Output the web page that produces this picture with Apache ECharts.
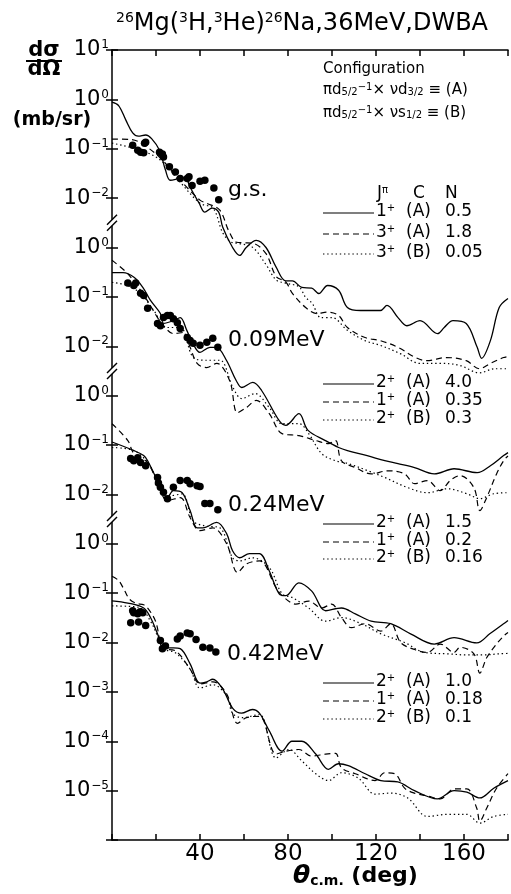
<!DOCTYPE html>
<html><head><meta charset="utf-8">
<script src="https://cdn.jsdelivr.net/npm/echarts@6/dist/echarts.min.js"></script>
<style>html,body{margin:0;padding:0;background:#fff}#c{width:511px;height:894px}</style>
</head><body><div id="c"></div>
<script>
// ---------------- DATA ----------------
const panelNames = ['g.s.', '0.09MeV', '0.24MeV', '0.42MeV'];
const xTickLabels = [40, 80, 120, 160];
// label exponent for each decade of the stacked axis (top 10^1 down to bottom)
const yTickExponents = [1, 0, -1, -2, 0, -1, -2, 0, -1, -2, 0, -1, -2, -3, -4, -5];

// legend entries: J^pi, configuration, normalisation N
const legendJ = [['1', '3', '3'], ['2', '1', '2'], ['2', '1', '2'], ['2', '1', '2']];
const legendC = [['(A)', '(A)', '(B)'], ['(A)', '(A)', '(B)'], ['(A)', '(A)', '(B)'], ['(A)', '(A)', '(B)']];
const legendN = [['0.5', '1.8', '0.05'], ['4.0', '0.35', '0.3'], ['1.5', '0.2', '0.16'], ['1.0', '0.18', '0.1']];

// g.s.
const gsSolid = [[0,0.88],[3,0.75],[6.3,0.38],[9.4,0.21],[12,0.18],[15.3,0.19],[18,0.16],[21.6,0.093],[24.3,0.037],[26.5,0.023],[30.6,0.025],[33.3,0.026],[35.5,0.0166],[39.6,0.0079],[42.2,0.0052],[45.5,0.0063],[48.5,0.0052],[50.3,0.0026],[54.8,1.0e-3],[58,6.9e-4],[61,1.0e-3],[65.6,1.4e-3],[70,1.0e-3],[74.6,4.0e-4],[79,2.1e-4],[82,2.1e-4],[86.3,1.55e-4],[90.8,1.5e-4],[94,1.17e-4],[98,1.7e-4],[103,1.36e-4],[107,6.1e-5],[113,5.3e-5],[122,5.3e-5],[125,6.7e-5],[130,3.8e-5],[134,2.6e-5],[140,3.3e-5],[148,1.8e-5],[151,2.4e-5],[155,3.3e-5],[161,2.9e-5],[166,9.5e-6],[168,5.7e-6],[172,1.3e-5],[176,6.1e-5],[180,9.3e-5]];
const gsDashed = [[0,0.157],[8,0.155],[12,0.14],[16,0.108],[22,0.065],[31,0.023],[40,0.0091],[43,0.0079],[49,0.0057],[53,2.2e-3],[56.6,1.28e-3],[60,1.25e-3],[64,1.22e-3],[70,7.5e-4],[74.6,2.6e-4],[79,2.0e-4],[82,1.18e-4],[88,6.1e-5],[93,4.6e-5],[98,4.9e-5],[103,4.2e-5],[107,2.4e-5],[115,1.5e-5],[122,1.3e-5],[130,9.5e-6],[138,5.9e-6],[143,5.1e-6],[152,5.9e-6],[161,5.1e-6],[167,3.5e-6],[172,4.5e-6],[178,5.9e-6],[180,6.2e-6]];
const gsDotted = [[0,0.13],[13,0.093],[22,0.059],[31,0.021],[40,0.0079],[46,0.0062],[50.3,0.002],[54,1.3e-3],[58,1.2e-3],[64,1.0e-3],[70,4.5e-4],[74.6,2.2e-4],[79,1.9e-4],[85,1.6e-4],[88,9.8e-5],[91,7.4e-5],[95,3.8e-5],[100,3.8e-5],[107,2.1e-5],[115,1.3e-5],[122,1.04e-5],[131,7.1e-6],[140,4.5e-6],[149,4.5e-6],[158,4.1e-6],[167,2.9e-6],[174,3.5e-6],[180,3.5e-6]];
const gsExp = [[9.4,0.118],[11.7,0.093],[13,0.085],[14.8,0.129],[15.3,0.135],[14.4,0.083],[21.6,0.085],[22.9,0.078],[23.4,0.068],[26.1,0.043],[28.8,0.034],[31,0.025],[34.2,0.025],[35,0.027],[36.4,0.018],[40,0.022],[42.2,0.023],[46.3,0.016],[48.5,0.0093]];

// 0.09 MeV
const e009Solid = [[0,0.31],[5,0.31],[10,0.25],[14,0.156],[17.5,0.085],[22,0.046],[23.5,0.029],[28,0.033],[31,0.038],[34,0.021],[36.5,0.012],[40,0.0075],[44.5,0.0095],[47.5,0.0095],[52,0.0052],[56.5,2.0e-3],[59,1.46e-3],[64,1.85e-3],[68,1.27e-3],[76,3.1e-4],[79,2.5e-4],[85,4.3e-4],[89,2.0e-4],[97,1.23e-4],[103,8.9e-5],[107,7.7e-5],[116,6.1e-5],[124,4.8e-5],[130,4.2e-5],[137.5,3.5e-5],[146.5,2.6e-5],[155.5,3.3e-5],[166,2.75e-5],[172,3.8e-5],[178,6.1e-5],[180,7.0e-5]];
const e009Dashed = [[0,0.55],[7,0.30],[13,0.135],[16,0.085],[20.7,0.038],[23.4,0.026],[28,0.018],[32.4,0.019],[35.5,0.0095],[38.7,0.0045],[43,0.0037],[47.6,0.0045],[53.5,2.0e-3],[57,4.5e-4],[61,5.7e-4],[65.6,8.0e-4],[71.5,4.3e-4],[77.3,1.7e-4],[85,1.55e-4],[92.6,1.23e-4],[98.4,1.07e-4],[101.6,1.23e-4],[104.3,4.8e-5],[110.6,3.5e-5],[117.8,2.6e-5],[125.4,3.0e-5],[133,2.6e-5],[137.5,1.65e-5],[143.4,1.9e-5],[149.2,1.19e-5],[153.7,1.9e-5],[158.2,2.4e-5],[164.5,1.37e-5],[167.2,4.7e-6],[170.3,8.6e-6],[174.8,2.6e-5],[178,4.8e-5],[180,6.0e-5]];
const e009Dotted = [[0,0.197],[7,0.17],[13,0.117],[19,0.053],[25,0.024],[31,0.024],[37,0.0059],[43,0.0052],[49,0.0052],[55,1.46e-3],[59,8.7e-4],[65,1.1e-3],[71.5,5.7e-4],[77.3,2.7e-4],[85,2.7e-4],[89.4,1.7e-4],[95.3,6.7e-5],[101.6,4.8e-5],[107.4,4.2e-5],[116.4,3.0e-5],[124,2.2e-5],[134.4,1.37e-5],[143.4,1.08e-5],[152.4,1.3e-5],[161.3,1.03e-5],[167.2,8.2e-6],[173.5,1.03e-5],[180,1.08e-5]];
const e009Exp = [[7.2,0.19],[9.9,0.17],[10.8,0.19],[13,0.118],[14.4,0.107],[16.2,0.059],[20.7,0.029],[22,0.026],[23.4,0.038],[25.2,0.042],[26.5,0.042],[27.9,0.036],[29.7,0.030],[31,0.023],[34.2,0.015],[35.5,0.013],[36.9,0.0115],[40,0.0105],[43.1,0.012],[45.8,0.0145],[48.1,0.0095]];

// 0.24 MeV
const e024Solid = [[0,0.115],[10,0.077],[14.4,0.061],[16.2,0.048],[20.7,0.019],[25.2,0.0086],[27.9,0.0119],[31.9,0.0108],[35.5,0.0047],[38.7,2.1e-3],[41.3,2.1e-3],[47.6,2.7e-3],[52.1,1.6e-3],[54.8,7.2e-4],[58,5.2e-4],[62.5,6.3e-4],[67,6.3e-4],[71.5,2.8e-4],[76,9.7e-5],[79.1,8.9e-5],[84.9,1.62e-4],[90.8,1.1e-4],[97.1,4.4e-5],[104.3,5.0e-5],[110.6,3.8e-5],[117.8,2.7e-5],[126.7,2.4e-5],[135.7,1.5e-5],[146.5,9.3e-6],[155.5,1.25e-5],[165.8,9.8e-6],[171.7,1.5e-5],[178,2.4e-5],[180,2.8e-5]];
const e024Dashed = [[0,0.27],[7.2,0.123],[9.9,0.068],[16.2,0.044],[20.7,0.017],[25.2,0.0075],[31,0.0086],[35.5,3.4e-3],[40,1.84e-3],[45.8,2.1e-3],[52.1,1.0e-3],[57.1,2.6e-4],[61.1,3.9e-4],[67,4.5e-4],[74.6,1.29e-4],[77.3,8.9e-5],[83.6,6.0e-5],[89.4,6.9e-5],[95.3,5.0e-5],[99.8,6.0e-5],[104.3,3.2e-5],[108.8,2.0e-5],[115.1,2.4e-5],[122.2,1.7e-5],[126.7,2.4e-5],[131.2,1.0e-5],[137.5,7.2e-6],[143.4,6.3e-6],[149.2,9.3e-6],[155.5,6.3e-6],[158.2,8.0e-6],[164.5,5.9e-6],[167.2,2.4e-6],[170.3,4.9e-6],[174.8,9.3e-6],[178,1.35e-5],[180,1.6e-5]];
const e024Dotted = [[0,0.089],[9.9,0.077],[16.2,0.044],[22,0.015],[26.5,0.0094],[31.9,0.0102],[36.9,2.9e-3],[42.2,2.3e-3],[49,2.1e-3],[54.8,5.2e-4],[58,4.5e-4],[63.8,5.2e-4],[71.5,3.3e-4],[77.3,9.7e-5],[81.8,8.2e-5],[89.4,5.0e-5],[97.1,2.7e-5],[104.3,3.2e-5],[113.3,2.4e-5],[122.2,1.5e-5],[133,1.0e-5],[142,6.3e-6],[152.4,5.9e-6],[161.3,5.6e-6],[169,5.6e-6],[176.2,5.9e-6],[180,6.0e-6]];
const e024Exp = [[8.5,0.053],[9.9,0.048],[11.7,0.055],[13,0.044],[15.3,0.038],[20.7,0.022],[21.1,0.017],[22,0.014],[23.4,0.011],[25.2,0.0082],[27.9,0.014],[31,0.019],[34.2,0.019],[35.5,0.0165],[38.7,0.015],[40,0.0145],[42.2,0.0065],[44.5,0.0065],[48.1,0.0049]];

// 0.42 MeV
const e042Solid = [[0,0.070],[7.2,0.063],[14.4,0.050],[17.5,0.032],[20.7,0.015],[23.4,0.0078],[27.9,0.0078],[31,0.0075],[35.5,3.7e-3],[40,1.5e-3],[43.1,1.6e-3],[45.8,1.8e-3],[50.3,1.15e-3],[54.8,4.7e-4],[58.9,3.7e-4],[63.8,4.4e-4],[67,3.7e-4],[71.5,1.62e-4],[77.3,6.3e-5],[81.8,1.0e-4],[86.3,1.0e-4],[92.6,5.5e-5],[98.4,2.7e-5],[102.9,3.5e-5],[107.4,3.2e-5],[115.1,2.2e-5],[122.2,1.6e-5],[129.9,1.5e-5],[137.5,1.0e-5],[147.9,6.8e-6],[155.5,1.0e-5],[161.3,9.3e-6],[167.2,7.1e-6],[173.5,1.12e-5],[180,1.6e-5]];
const e042Dashed = [[0,0.22],[3,0.18],[5.4,0.12],[8,0.075],[11,0.062],[14.4,0.058],[16.5,0.048],[19.8,0.027],[23.4,0.0075],[28.8,0.0068],[35.5,2.9e-3],[40,1.45e-3],[45.8,1.6e-3],[52.1,9.1e-4],[57.1,2.3e-4],[61.1,3.0e-4],[67,3.2e-4],[74.6,5.5e-5],[79.1,6.3e-5],[84.9,6.8e-5],[90.8,5.0e-5],[97.1,5.5e-5],[101.6,5.7e-5],[104.3,2.9e-5],[110.6,2.2e-5],[119.6,1.6e-5],[124,2.3e-5],[128.5,2.2e-5],[133,1.12e-5],[137.5,8.9e-6],[143.4,7.8e-6],[149.2,6.8e-6],[155.5,1.08e-5],[161.3,1.08e-5],[165.8,4.4e-6],[167.2,2.4e-6],[170.3,4.4e-6],[174.8,1.12e-5],[180,2.2e-5]];
const e042Dotted = [[0,0.055],[7.2,0.054],[13,0.050],[17.5,0.027],[20.7,0.0135],[23.4,0.0075],[28.8,0.0062],[35.5,2.9e-3],[40,1.2e-3],[45.8,1.4e-3],[52.1,8.3e-4],[54.8,3.7e-4],[59.3,3.0e-4],[67,3.5e-4],[74.6,4.6e-5],[80.4,6.8e-5],[86.3,4.0e-5],[92.6,2.2e-5],[98.4,1.6e-5],[104.3,2.3e-5],[111.9,1.8e-5],[119.6,8.5e-6],[126.7,8.9e-6],[134.4,7.1e-6],[143.4,3.0e-6],[152.4,3.3e-6],[161.3,3.3e-6],[167.2,2.2e-6],[173.5,3.0e-6],[180,3.3e-6]];
const e042Exp = [[8.5,0.025],[9.4,0.044],[9.9,0.040],[11.7,0.038],[12.8,0.042],[14,0.040],[12.1,0.026],[15.3,0.022],[22,0.0110],[22.9,0.0075],[24.3,0.0085],[29.7,0.0118],[31,0.0135],[34.2,0.0155],[35.5,0.015],[38.2,0.0115],[41.3,0.0080],[44.5,0.0077],[47.2,0.0064]];

// ---------------- LAYOUT ----------------
const FONT = 'DejaVu Sans';
const PANEL_SHIFT = [0, 3, 6, 9];          // decades each panel is displaced downward
const BREAKS = [-2.5, -5.5, -8.5];          // stacked-axis exponents of axis breaks
const panels = [
  {solid: gsSolid, dashed: gsDashed, dotted: gsDotted, exp: gsExp},
  {solid: e009Solid, dashed: e009Dashed, dotted: e009Dotted, exp: e009Exp},
  {solid: e024Solid, dashed: e024Dashed, dotted: e024Dotted, exp: e024Exp},
  {solid: e042Solid, dashed: e042Dashed, dotted: e042Dotted, exp: e042Exp}
];
const labelPos = [[228, 190], [228, 340], [228, 505], [227, 654]];
const legendRowsY = [[212, 233, 253], [383, 401, 419], [523, 541, 558], [682, 700, 718]];
const dashStyles = ['solid', [6, 4], [1.4, 2.8]];

const shift = (arr, k) => arr.map(p => [p[0], p[1] * Math.pow(10, -PANEL_SHIFT[k])]);

const series = [];
panels.forEach((p, k) => {
  ['solid', 'dashed', 'dotted'].forEach((key, i) => {
    series.push({
      type: 'line', data: shift(p[key], k), showSymbol: false, smooth: 0.35,
      lineStyle: {color: '#000', width: i === 0 ? 1.3 : 1.2, type: dashStyles[i]},
      silent: true, z: 3
    });
  });
  series.push({
    type: 'scatter', data: shift(p.exp, k), symbol: 'circle', symbolSize: 7.5,
    itemStyle: {color: '#000', opacity: 1}, silent: true, z: 5
  });
});

const yDecades = yTickExponents.map((e, i) => Math.pow(10, 1 - i)).concat([1e-15]);
function yLabel(v) {
  const e = Math.round(Math.log10(v));
  const idx = 1 - e;
  if (idx < 0 || idx >= yTickExponents.length) return '';
  const n = yTickExponents[idx];
  const s = n < 0 ? '\u2212' + (-n) : String(n);
  return '{b|10}{s|' + s + '}';
}

const chart = echarts.init(document.getElementById('c'), null, {renderer: 'canvas'});
const axisLineStyle = {color: '#000', width: 1.5};
const tickStyle = {color: '#000', width: 1.5};
const option = {
  animation: false,
  backgroundColor: '#fff',
  grid: {left: 112, right: -1, top: 50, bottom: 54},
  xAxis: [
    {type: 'value', min: 0, max: 180, interval: 20, position: 'bottom',
     axisLine: {lineStyle: axisLineStyle}, axisTick: {inside: true, length: 6, lineStyle: tickStyle},
     splitLine: {show: false},
     axisLabel: {margin: 3, color: '#000', fontFamily: FONT, fontSize: 23,
       formatter: v => xTickLabels.indexOf(v) >= 0 ? String(v) : ''}},
    {type: 'value', min: 0, max: 180, interval: 20, position: 'top',
     axisLine: {lineStyle: axisLineStyle}, axisTick: {inside: true, length: 6, lineStyle: tickStyle},
     splitLine: {show: false}, axisLabel: {show: false}}
  ],
  yAxis: [
    {type: 'log', logBase: 10, min: 1e-15, max: 10, position: 'left',
     axisLine: {lineStyle: axisLineStyle},
     axisTick: {inside: true, length: 6, lineStyle: tickStyle, customValues: yDecades},
     minorTick: {show: false}, splitLine: {show: false},
     axisLabel: {margin: 3, color: '#000', formatter: yLabel, customValues: yDecades,
       rich: {b: {fontFamily: FONT, fontSize: 21, color: '#000'},
              s: {fontFamily: FONT, fontSize: 12, color: '#000', verticalAlign: 'top', padding: [0, 0, 10, 1]}}}},
    {type: 'log', logBase: 10, min: 1e-15, max: 10, position: 'right',
     axisLine: {show: false},
     axisTick: {inside: true, length: 6, lineStyle: tickStyle, customValues: yDecades},
     splitLine: {show: false}, axisLabel: {show: false, customValues: yDecades}}
  ],
  series: series
};
chart.setOption(option);

// ---------------- ANNOTATIONS ----------------
const g = [];
const txt = (x, y, text, opts) => g.push(Object.assign({type: 'text', silent: true, z: 50,
  style: Object.assign({x: x, y: y, text: text, fill: '#000', font: '17px "' + FONT + '"', textAlign: 'left', textVerticalAlign: 'middle'}, opts || {})}));

// title
txt(302, 24, '{sp|26}{m|Mg(}{sp|3}{m|H,}{sp|3}{m|He)}{sp|26}{m|Na,36MeV,DWBA}', {textAlign: 'center',
  rich: {m: {fontFamily: FONT, fontSize: 24, fill: '#000'}, sp: {fontFamily: FONT, fontSize: 14, fill: '#000', verticalAlign: 'top', padding: [0, 0, 12, 0]}}});
// y-axis name
txt(44, 51, 'd\u03c3', {textAlign: 'center', font: 'bold 21px "' + FONT + '"'});
g.push({type: 'line', silent: true, shape: {x1: 26, y1: 61, x2: 62, y2: 61}, style: {stroke: '#000', lineWidth: 2.2}});
txt(44, 70, 'd\u03a9', {textAlign: 'center', font: 'bold 21px "' + FONT + '"'});
txt(52, 120, '(mb/sr)', {textAlign: 'center', font: 'bold 19px "' + FONT + '"'});
// x-axis name
txt(293, 876, '{t|\u03b8}{s|c.m.}{d| (deg)}', {
  rich: {t: {fontFamily: FONT, fontSize: 25, fontStyle: 'italic', fontWeight: 'bold', fill: '#000'},
         s: {fontFamily: FONT, fontSize: 14, fontWeight: 'bold', fill: '#000', verticalAlign: 'bottom'},
         d: {fontFamily: FONT, fontSize: 22, fontWeight: 'bold', fill: '#000'}}});
// configuration
txt(323, 69, 'Configuration', {font: '15px "' + FONT + '"'});
const cfgRich = {t: {fontFamily: FONT, fontSize: 15, fill: '#000'},
  sb: {fontFamily: FONT, fontSize: 10, fill: '#000', verticalAlign: 'bottom'},
  sp: {fontFamily: FONT, fontSize: 10, fill: '#000', verticalAlign: 'top'}};
txt(323, 90, '{t|\u03c0d}{sb|5/2}{sp|\u22121}{t|\u00d7 \u03bdd}{sb|3/2}{t| \u2261 (A)}', {rich: cfgRich});
txt(323, 113, '{t|\u03c0d}{sb|5/2}{sp|\u22121}{t|\u00d7 \u03bds}{sb|1/2}{t| \u2261 (B)}', {rich: cfgRich});
// panel labels
panelNames.forEach((n, k) => txt(labelPos[k][0], labelPos[k][1], n, {font: '22px "' + FONT + '"'}));
// legends
const jRich = {n: {fontFamily: FONT, fontSize: 17, fill: '#000'}, p: {fontFamily: FONT, fontSize: 10, fill: '#000', verticalAlign: 'top'}};
txt(377, 194, '{n|J}{p|\u03c0}', {rich: jRich});
txt(413, 194, 'C');
txt(445, 194, 'N');
legendRowsY.forEach((rows, k) => {
  rows.forEach((y, i) => {
    g.push({type: 'line', silent: true, shape: {x1: 323, y1: y + 1, x2: 374, y2: y + 1},
      style: {stroke: '#000', lineWidth: 1.2, lineDash: i === 0 ? null : dashStyles[i]}});
    txt(376, y, '{n|' + legendJ[k][i] + '}{p|+}', {rich: jRich});
    txt(406, y, legendC[k][i]);
    txt(445, y, legendN[k][i]);
  });
});
// axis breaks
const ax = chart.convertToPixel({xAxisIndex: 0}, 0);
BREAKS.forEach(e => {
  const y = chart.convertToPixel({yAxisIndex: 0}, Math.pow(10, e));
  g.push({type: 'rect', silent: true, z: 40, shape: {x: ax - 3, y: y - 3, width: 6, height: 6}, style: {fill: '#fff'}});
  [-3, 3].forEach(d => g.push({type: 'line', silent: true, z: 41,
    shape: {x1: ax - 5, y1: y + d + 5, x2: ax + 5, y2: y + d - 5}, style: {stroke: '#000', lineWidth: 1.5}}));
});
chart.setOption({graphic: g});
</script></body></html>
